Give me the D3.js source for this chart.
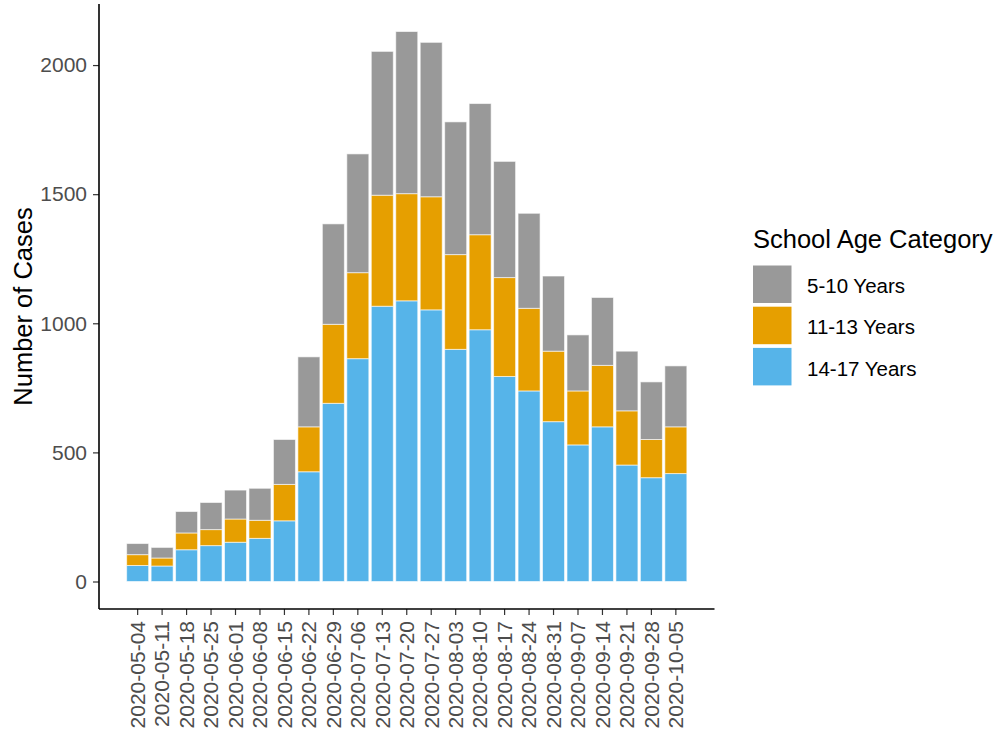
<!DOCTYPE html>
<html>
<head>
<meta charset="utf-8">
<script src="https://cdn.jsdelivr.net/npm/d3@7"></script>
<style>
  body { margin: 0; background: #fff; }
  text { font-family: "Liberation Sans", Arial, sans-serif; }
</style>
</head>
<body>
<svg width="998" height="732"></svg>
<script>
// weekly case counts
var dates = ["2020-05-04","2020-05-11","2020-05-18","2020-05-25","2020-06-01","2020-06-08",
  "2020-06-15","2020-06-22","2020-06-29","2020-07-06","2020-07-13","2020-07-20","2020-07-27",
  "2020-08-03","2020-08-10","2020-08-17","2020-08-24","2020-08-31","2020-09-07","2020-09-14",
  "2020-09-21","2020-09-28","2020-10-05"];
var cases14to17 = [62, 60, 123, 139, 152, 167, 235, 425, 690, 863, 1066, 1087, 1052, 899, 975, 794, 738, 619, 529, 599, 451, 402, 418];
var cases11to13 = [42, 31, 65, 62, 90, 70, 141, 174, 306, 333, 430, 415, 438, 367, 368, 383, 320, 273, 209, 238, 210, 148, 181];
var cases5to10  = [43, 41, 83, 105, 112, 124, 174, 271, 389, 460, 557, 628, 598, 514, 508, 450, 368, 291, 217, 263, 231, 223, 236];

var categories = ["5-10 Years", "11-13 Years", "14-17 Years"];
var colors = {"5-10 Years": "#999999", "11-13 Years": "#E69F00", "14-17 Years": "#56B4E9"};
var yTicks = [0, 500, 1000, 1500, 2000];

var svg = d3.select("svg"),
    panel = {left: 99, right: 714.5, top: 4, bottom: 609};

var data = dates.map(function(d, i) {
  return {date: d, "14-17 Years": cases14to17[i], "11-13 Years": cases11to13[i], "5-10 Years": cases5to10[i]};
});

// blue at the bottom, grey on top
var stacked = d3.stack().keys(["14-17 Years", "11-13 Years", "5-10 Years"])(data);

var maxTotal = d3.max(stacked[stacked.length - 1], function(d) { return d[1]; });
var pad = maxTotal * 0.05;

var x = d3.scaleBand().domain(dates)
    .range([panel.left, panel.right])
    .paddingInner(0.1).paddingOuter(1.13);
var y = d3.scaleLinear().domain([-pad, maxTotal + pad]).range([panel.bottom, panel.top]);

svg.append("g").selectAll("g")
  .data(stacked)
  .enter().append("g")
    .attr("fill", function(s) { return colors[s.key]; })
  .selectAll("rect")
  .data(function(s) { return s; })
  .enter().append("rect")
    .attr("x", function(d) { return x(d.data.date); })
    .attr("y", function(d) { return y(d[1]); })
    .attr("width", x.bandwidth())
    .attr("height", function(d) { return y(d[0]) - y(d[1]); })
    .attr("stroke", "#fff")
    .attr("stroke-opacity", 0.6)
    .attr("stroke-width", 1);

// y axis
var gy = svg.append("g")
    .attr("transform", "translate(" + panel.left + ",0)")
    .call(d3.axisLeft(y).tickValues(yTicks).tickSize(6).tickPadding(6).tickFormat(d3.format("d")));
gy.select(".domain").remove();
gy.selectAll(".tick line").attr("stroke", "#333").attr("stroke-width", 1.2);
gy.selectAll(".tick text")
    .attr("fill", "#4D4D4D")
    .style("font-size", "21px")
    .style("font-family", "'Liberation Sans', Arial, sans-serif");

// x axis
var gx = svg.append("g")
    .attr("transform", "translate(0," + panel.bottom + ")")
    .call(d3.axisBottom(x).tickSize(6).tickPadding(0));
gx.select(".domain").remove();
gx.selectAll(".tick line").attr("stroke", "#333").attr("stroke-width", 1.2);
gx.selectAll(".tick text")
    .attr("fill", "#4D4D4D")
    .attr("text-anchor", "end")
    .attr("transform", "translate(0,12) rotate(-90)")
    .attr("x", 0).attr("y", 0).attr("dy", "0.35em")
    .style("font-size", "21px")
    .style("font-family", "'Liberation Sans', Arial, sans-serif");

// axis lines (theme_classic)
svg.append("line")
    .attr("x1", panel.left).attr("x2", panel.left)
    .attr("y1", panel.top).attr("y2", panel.bottom)
    .attr("stroke", "#000").attr("stroke-width", 1.6);
svg.append("line")
    .attr("x1", panel.left).attr("x2", panel.right)
    .attr("y1", panel.bottom).attr("y2", panel.bottom)
    .attr("stroke", "#000").attr("stroke-width", 1.6);

svg.append("text")
    .attr("transform", "translate(31.5," + ((panel.top + panel.bottom) / 2) + ") rotate(-90)")
    .attr("text-anchor", "middle")
    .style("font-size", "25.5px")
    .text("Number of Cases");

// legend
var legend = svg.append("g").attr("transform", "translate(753,0)");
legend.append("text")
    .attr("x", 0).attr("y", 248)
    .style("font-size", "25.5px")
    .text("School Age Category");

var items = legend.selectAll(".item")
  .data(categories)
  .enter().append("g")
    .attr("class", "item")
    .attr("transform", function(d, i) { return "translate(0," + (265.5 + i * 41.2) + ")"; });
items.append("rect")
    .attr("width", 38.5).attr("height", 37.5)
    .attr("fill", function(d) { return colors[d]; });
items.append("text")
    .attr("x", 54).attr("y", 20.5).attr("dy", "0.35em")
    .style("font-size", "20.5px")
    .text(function(d) { return d; });
</script>
</body>
</html>
